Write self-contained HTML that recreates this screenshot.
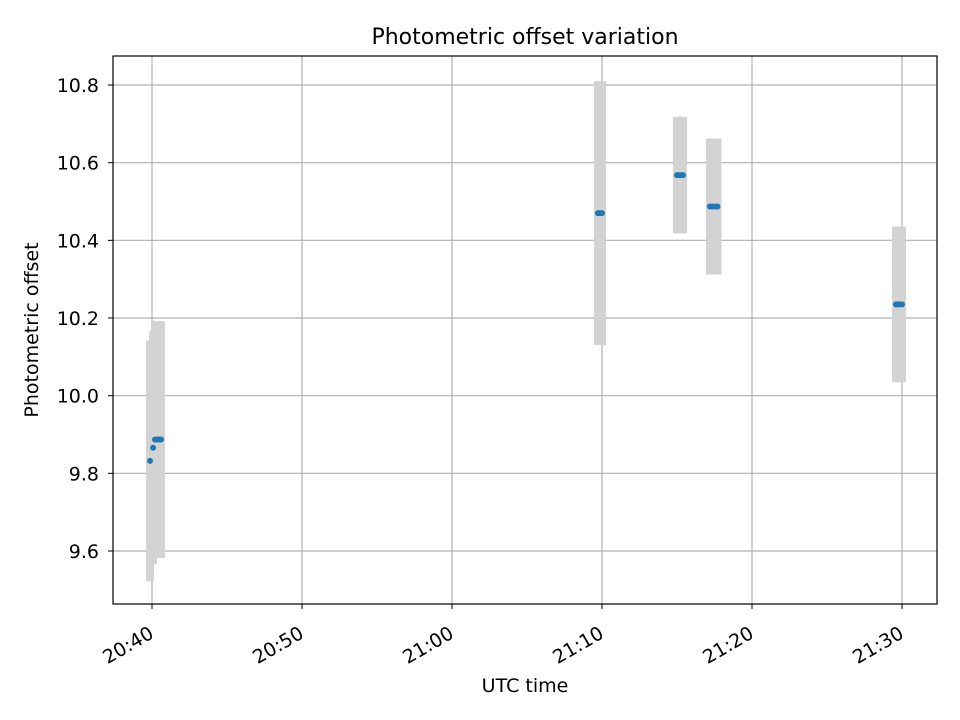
<!DOCTYPE html>
<html><head><meta charset="utf-8"><style>body{margin:0;background:#fff}svg{display:block;font-family:"DejaVu Sans","Liberation Sans",sans-serif}</style></head>
<body>
<svg id="c" width="960" height="720"></svg>
<script>
// minutes after 20:40 UTC
const times=[-0.13,0.07,0.2,0.33,0.47,0.6,29.73,29.87,30.0,35.0,35.13,35.27,35.4,37.2,37.37,37.53,37.7,49.6,49.73,49.87,50.0];
const values=[9.832,9.866,9.887,9.887,9.887,9.887,10.47,10.47,10.47,10.568,10.568,10.568,10.568,10.487,10.487,10.487,10.487,10.235,10.235,10.235,10.235];
const errors=[0.31,0.30,0.305,0.305,0.305,0.305,0.34,0.34,0.34,0.15,0.15,0.15,0.15,0.175,0.175,0.175,0.175,0.2,0.2,0.2,0.2];
const yTicks=[9.6,9.8,10.0,10.2,10.4,10.6,10.8];
const xTicks=[0,10,20,30,40,50];
const xTickLabels=["20:40","20:50","21:00","21:10","21:20","21:30"];
const L=113,R=937,T=56,B=604;
const X=m=>152+(m)*15;
const Y=v=>551-(v-9.6)*388.33;
const s=document.getElementById('c');const NS="http://www.w3.org/2000/svg";
function el(t,a,p,txt){const e=document.createElementNS(NS,t);for(const k in a)e.setAttribute(k,a[k]);if(txt!==undefined)e.textContent=txt;(p||s).appendChild(e);return e;}
const g=el('g',{});
yTicks.forEach(v=>{el('line',{x1:L,x2:R,y1:Y(v),y2:Y(v),stroke:'#b0b0b0','stroke-width':1.2},g);
 const t=el('text',{x:L-14,y:Y(v)+7,'text-anchor':'end','font-size':19},s,v.toFixed(1));
 el('line',{x1:L-5,x2:L,y1:Y(v),y2:Y(v),stroke:'#000'});});
xTicks.forEach((m,i)=>{el('line',{x1:X(m),x2:X(m),y1:T,y2:B,stroke:'#b0b0b0','stroke-width':1.2},g);
 el('line',{x1:X(m),x2:X(m),y1:B,y2:B+5,stroke:'#000'});
 const t=el('text',{transform:`translate(${X(m)+3},${B+33}) rotate(-30)`,'text-anchor':'end','font-size':19},s,xTickLabels[i]);});
times.forEach((m,i)=>{const e=el('line',{x1:X(m),x2:X(m),y1:Y(values[i]+errors[i]),y2:Y(values[i]-errors[i]),stroke:'#d3d3d3','stroke-width':8});
 });
times.forEach((m,i)=>{const c=el('circle',{cx:X(m),cy:Y(values[i]),r:3,fill:'#1f77b4'});
 });
const f=el('rect',{x:L,y:T,width:R-L,height:B-T,fill:'none',stroke:'#000','stroke-width':1.2});
let t=el('text',{x:525,y:44,'text-anchor':'middle','font-size':22},s,'Photometric offset variation');
t=el('text',{x:525,y:692,'text-anchor':'middle','font-size':19},s,'UTC time');
t=el('text',{transform:'translate(38,330) rotate(-90)','text-anchor':'middle','font-size':19},s,'Photometric offset');
</script>
</body></html>
